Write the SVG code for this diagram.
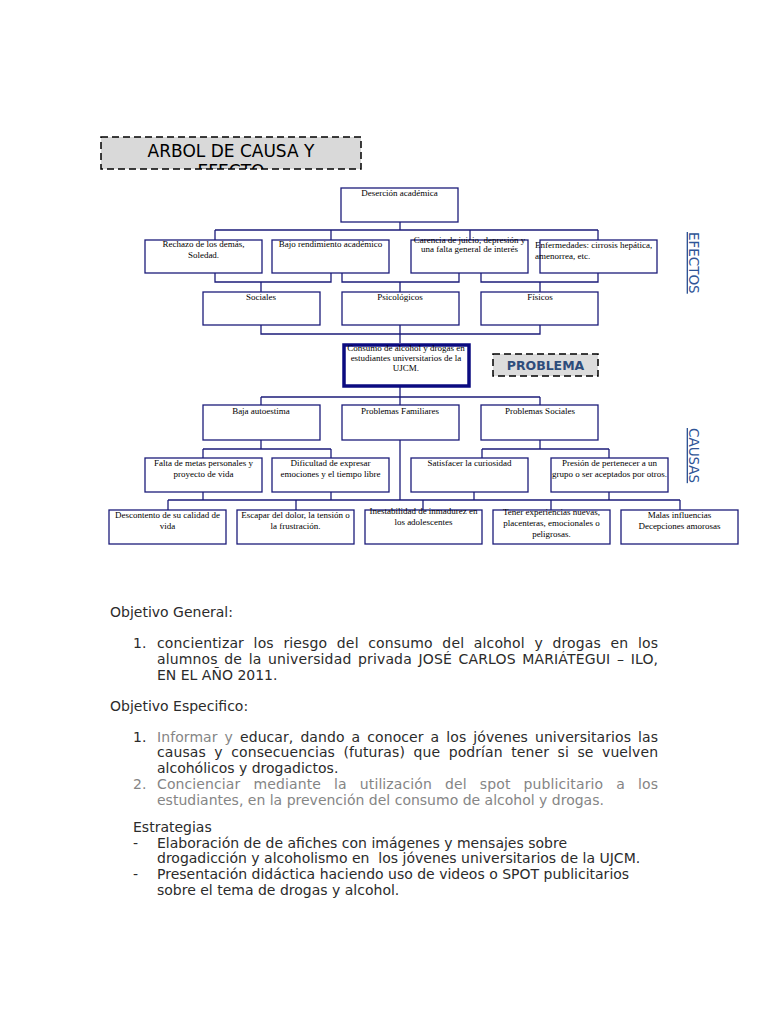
<svg xmlns="http://www.w3.org/2000/svg" width="768" height="1024" viewBox="0 0 768 1024">
<style>
.box{fill:#fff;stroke:#1c1c7a;stroke-width:1.3}
.conn{fill:none;stroke:#1c1c7a;stroke-width:1.3}
.t{font-family:"Liberation Serif","Times New Roman",serif;font-size:9px;fill:#000;text-anchor:middle}
.tl{text-anchor:start}
.side{font-family:"DejaVu Sans",sans-serif;font-size:13.5px;fill:#2f5597;text-decoration:underline}
.body{font-family:"DejaVu Sans",sans-serif;font-size:14px;fill:#2b2b2b}
.gray{fill:#858585}
.dash{stroke:#000;stroke-width:1.5;stroke-dasharray:7,4}
</style>
<defs>
<clipPath id="titleclip"><rect x="101" y="137" width="260" height="32"/></clipPath>
</defs>
<rect width="768" height="1024" fill="#fff"/>

<g id="title">
<rect x="101" y="137" width="260" height="32" fill="#d9d9d9" class="dash"/>
<g clip-path="url(#titleclip)">
<text x="231" y="157" font-family="DejaVu Sans, sans-serif" font-size="17" text-anchor="middle" fill="#000">ARBOL DE CAUSA Y</text>
<text x="231" y="177" font-family="DejaVu Sans, sans-serif" font-size="17" text-anchor="middle" fill="#000">EFECTO</text>
</g>
</g>

<g id="connectors">
<path class="conn" d="M400,222V230M215,230H598M215,230V240M331,230V240M470,230V240M598,230V240"/>
<path class="conn" d="M215,273V282H331V273M261,282V292M342,273V282H459V273M400,282V292M481,273V282H598V273M540,282V292"/>
<path class="conn" d="M261,325V334H540V325M400,325V343"/>
<path class="conn" d="M400,387V397M261,397H540M261,397V405M400,397V405M540,397V405"/>
<path class="conn" d="M261,440V449M203,449H331M203,449V458M331,449V458M540,440V449M482,449H609M482,449V458M609,449V458M400,440V500"/>
<path class="conn" d="M203,492V500M331,492V500M474,492V500M609,492V500M168,500H680M168,500V510M296,500V510M423,500V510M551,500V510M680,500V510"/>
</g>

<g id="n-desercion"><rect class="box" x="341" y="188" width="117" height="34"/><text class="t" x="399.5" y="196">Deserción académica</text></g>

<g id="n-rechazo"><rect class="box" x="145" y="240" width="117" height="33"/><text class="t" x="203.5" y="247">Rechazo de los demás,</text><text class="t" x="203.5" y="258">Soledad.</text></g>
<g id="n-bajo"><rect class="box" x="272" y="240" width="117" height="33"/><text class="t" x="330.5" y="247">Bajo rendimiento académico</text></g>
<g id="n-carencia"><rect class="box" x="411" y="240" width="117" height="33"/><text class="t" x="469.5" y="243">Carencia de juicio, depresión y</text><text class="t" x="469.5" y="252">una falta general de interés</text></g>
<g id="n-enfermedades"><rect class="box" x="540" y="240" width="117" height="33"/><text class="t tl" x="535" y="248">Enfermedades: cirrosis hepática,</text><text class="t tl" x="535" y="259">amenorrea, etc.</text></g>

<g id="n-sociales"><rect class="box" x="203" y="292" width="117" height="33"/><text class="t" x="261" y="300">Sociales</text></g>
<g id="n-psicologicos"><rect class="box" x="342" y="292" width="117" height="33"/><text class="t" x="400" y="300">Psicológicos</text></g>
<g id="n-fisicos"><rect class="box" x="481" y="292" width="117" height="33"/><text class="t" x="540" y="300">Físicos</text></g>

<g id="n-problema-central"><rect x="344" y="345" width="125" height="41" fill="#fff" stroke="#0b0b80" stroke-width="3.5"/><text class="t" x="406" y="351">Consumo de alcohol y drogas en</text><text class="t" x="406" y="361">estudiantes universitarios de la</text><text class="t" x="406" y="371">UJCM.</text></g>

<g id="label-problema"><rect x="493" y="354" width="105" height="22" fill="#dcdcdc" class="dash" stroke-width="1.2"/><text x="545.5" y="370" font-family="DejaVu Sans, sans-serif" font-size="12.5" font-weight="bold" fill="#2e4d7b" text-anchor="middle">PROBLEMA</text></g>

<g id="label-efectos"><text class="side" transform="translate(689,232) rotate(90)">EFECTOS</text></g>
<g id="label-causas"><text class="side" transform="translate(689,428) rotate(90)">CAUSAS</text></g>

<g id="n-baja"><rect class="box" x="203" y="405" width="117" height="35"/><text class="t" x="261" y="414">Baja autoestima</text></g>
<g id="n-familiares"><rect class="box" x="342" y="405" width="117" height="35"/><text class="t" x="400" y="414">Problemas Familiares</text></g>
<g id="n-psociales"><rect class="box" x="481" y="405" width="117" height="35"/><text class="t" x="540" y="414">Problemas Sociales</text></g>

<g id="n-falta"><rect class="box" x="145" y="458" width="117" height="34"/><text class="t" x="203.5" y="466">Falta de metas personales y</text><text class="t" x="203.5" y="477">proyecto de vida</text></g>
<g id="n-dificultad"><rect class="box" x="272" y="458" width="117" height="34"/><text class="t" x="330.5" y="466">Dificultad de expresar</text><text class="t" x="330.5" y="477">emociones y el tiempo libre</text></g>
<g id="n-satisfacer"><rect class="box" x="411" y="458" width="117" height="34"/><text class="t" x="469.5" y="466">Satisfacer la curiosidad</text></g>
<g id="n-presion"><rect class="box" x="551" y="458" width="117" height="34"/><text class="t" x="609.5" y="466" fill="#333">Presión de pertenecer a un</text><text class="t" x="609.5" y="477" fill="#333">grupo o ser aceptados por otros.</text></g>

<g id="n-descontento"><rect class="box" x="109" y="510" width="117" height="34"/><text class="t" x="167.5" y="518">Descontento de su calidad de</text><text class="t" x="167.5" y="529">vida</text></g>
<g id="n-escapar"><rect class="box" x="237" y="510" width="117" height="34"/><text class="t" x="295.5" y="518">Escapar del dolor, la tensión o</text><text class="t" x="295.5" y="529">la frustración.</text></g>
<g id="n-inestabilidad"><rect class="box" x="365" y="510" width="117" height="34"/><text class="t" x="423.5" y="514">Inestabilidad de inmadurez en</text><text class="t" x="423.5" y="525">los adolescentes</text></g>
<g id="n-tener"><rect class="box" x="493" y="510" width="117" height="34"/><text class="t" x="551.5" y="515" fill="#666">Tener experiencias nuevas,</text><text class="t" x="551.5" y="526" fill="#666">placenteras, emocionales o</text><text class="t" x="551.5" y="537" fill="#666">peligrosas.</text></g>
<g id="n-malas"><rect class="box" x="621" y="510" width="117" height="34"/><text class="t" x="679.5" y="518">Malas influencias</text><text class="t" x="679.5" y="529">Decepciones amorosas</text></g>

<g id="texto">
<text class="body" x="110" y="617">Objetivo General:</text>
<text class="body" x="133" y="648">1.</text>
<text class="body" x="157" y="648" word-spacing="5" textLength="501" lengthAdjust="spacing">concientizar los riesgo del consumo del alcohol y drogas en los</text>
<text class="body" x="157" y="664" word-spacing="2" textLength="501" lengthAdjust="spacing">alumnos de la universidad privada JOSÉ CARLOS MARIÁTEGUI – ILO,</text>
<text class="body" x="157" y="680">EN EL AÑO 2011.</text>
<text class="body" x="110" y="711">Objetivo Especifico:</text>
<text class="body" x="133" y="742">1.</text>
<text class="body" x="157" y="742" word-spacing="2.5" textLength="501" lengthAdjust="spacing"><tspan class="gray">Informar y</tspan> educar, dando a conocer a los jóvenes universitarios las</text>
<text class="body" x="157" y="757" word-spacing="4" textLength="501" lengthAdjust="spacing">causas y consecuencias (futuras) que podrían tener si se vuelven</text>
<text class="body" x="157" y="773">alcohólicos y drogadictos.</text>
<text class="body gray" x="133" y="789">2.</text>
<text class="body gray" x="157" y="789" word-spacing="8.5" textLength="501" lengthAdjust="spacing">Concienciar mediante la utilización del spot publicitario a los</text>
<text class="body gray" x="157" y="805">estudiantes, en la prevención del consumo de alcohol y drogas.</text>
<text class="body" x="133" y="832">Estrategias</text>
<text class="body" x="133" y="848">-</text>
<text class="body" x="157" y="848">Elaboración de de afiches con imágenes y mensajes sobre</text>
<text class="body" x="157" y="863" xml:space="preserve">drogadicción y alcoholismo en  los jóvenes universitarios de la UJCM.</text>
<text class="body" x="133" y="879">-</text>
<text class="body" x="157" y="879">Presentación didáctica haciendo uso de videos o SPOT publicitarios</text>
<text class="body" x="157" y="895">sobre el tema de drogas y alcohol.</text>
</g>
</svg>
